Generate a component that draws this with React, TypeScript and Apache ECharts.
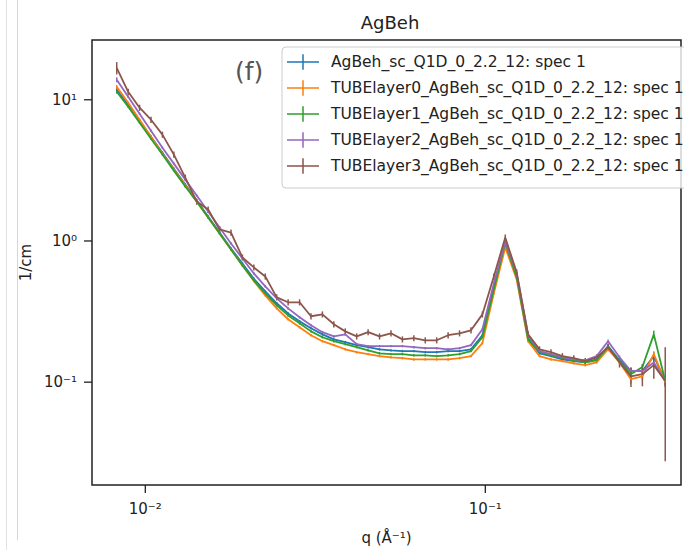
import React, { useEffect, useRef } from 'react';
import * as echarts from 'echarts';

// q grid (Å^-1)
const q = [
  0.008241, 0.008905, 0.00962, 0.010394, 0.01123, 0.012134, 0.01311, 0.014165, 0.015305, 0.016537,
  0.017867, 0.019305, 0.020858, 0.022536, 0.024349, 0.026308, 0.028425, 0.030712, 0.033183, 0.035853,
  0.038738, 0.041855, 0.045222, 0.048861, 0.052792, 0.05704, 0.061629, 0.066588, 0.071946, 0.077735,
  0.083989, 0.090747, 0.098049, 0.10594, 0.11446, 0.12367, 0.13362, 0.14437, 0.15599, 0.16854,
  0.1821, 0.19675, 0.21258, 0.22968, 0.24817, 0.26813, 0.28971, 0.31302, 0.3382,
];

const seriesNames = [
  'AgBeh_sc_Q1D_0_2.2_12: spec 1',
  'TUBElayer0_AgBeh_sc_Q1D_0_2.2_12: spec 1',
  'TUBElayer1_AgBeh_sc_Q1D_0_2.2_12: spec 1',
  'TUBElayer2_AgBeh_sc_Q1D_0_2.2_12: spec 1',
  'TUBElayer3_AgBeh_sc_Q1D_0_2.2_12: spec 1',
];

const agbeh = [
  11.77, 9.22, 7.11, 5.48, 4.22, 3.25, 2.51, 1.933, 1.49, 1.148,
  0.885, 0.693, 0.54, 0.44, 0.362, 0.307, 0.27, 0.241, 0.218, 0.201,
  0.192, 0.183, 0.177, 0.171, 0.168, 0.166, 0.166, 0.163, 0.163, 0.166,
  0.166, 0.171, 0.215, 0.469, 0.96, 0.57, 0.205, 0.16, 0.153, 0.145,
  0.141, 0.138, 0.145, 0.18, 0.143, 0.12, 0.12, 0.153, 0.102,
];
const tube0 = [
  12.36, 9.52, 7.22, 5.48, 4.15, 3.2, 2.47, 1.9, 1.466, 1.13,
  0.871, 0.671, 0.52, 0.412, 0.333, 0.279, 0.245, 0.215, 0.195, 0.183,
  0.171, 0.163, 0.158, 0.153, 0.15, 0.148, 0.145, 0.145, 0.145, 0.145,
  0.148, 0.153, 0.189, 0.426, 0.9, 0.535, 0.195, 0.153, 0.145, 0.141,
  0.136, 0.132, 0.138, 0.171, 0.138, 0.105, 0.11, 0.158, 0.1,
];
const tube1 = [
  11.39, 8.92, 6.88, 5.3, 4.09, 3.15, 2.43, 1.902, 1.466, 1.13,
  0.871, 0.671, 0.526, 0.426, 0.35, 0.297, 0.261, 0.229, 0.208, 0.195,
  0.186, 0.177, 0.168, 0.16, 0.158, 0.158, 0.155, 0.155, 0.153, 0.155,
  0.158, 0.166, 0.208, 0.454, 0.976, 0.552, 0.201, 0.163, 0.155, 0.148,
  0.143, 0.138, 0.143, 0.177, 0.141, 0.114, 0.128, 0.218, 0.102,
];
const tube2 = [
  13.85, 10.5, 7.96, 6.04, 4.58, 3.53, 2.72, 2.097, 1.616, 1.246,
  0.96, 0.752, 0.589, 0.477, 0.392, 0.333, 0.288, 0.253, 0.226, 0.211,
  0.218, 0.186, 0.18, 0.18, 0.18, 0.18, 0.177, 0.174, 0.174, 0.171,
  0.174, 0.183, 0.237, 0.501, 0.99, 0.589, 0.215, 0.166, 0.158, 0.15,
  0.145, 0.143, 0.153, 0.195, 0.15, 0.12, 0.12, 0.138, 0.102,
];
const tube3 = [
  16.8, 11.39, 8.78, 7.22, 5.66, 4.09, 2.81, 1.9, 1.67, 1.206,
  1.148, 0.764, 0.65, 0.561, 0.399, 0.368, 0.368, 0.293, 0.302, 0.257,
  0.229, 0.211, 0.226, 0.211, 0.222, 0.201, 0.205, 0.198, 0.198, 0.215,
  0.222, 0.233, 0.302, 0.561, 1.058, 0.599, 0.218, 0.171, 0.163, 0.153,
  0.148, 0.141, 0.15, 0.177, 0.138, 0.11, 0.114, 0.132, 0.102,
];

// relative error bars (fraction of value)
const errAgbeh = [
  0.03, 0.02, 0.02, 0.02, 0.02, 0.02, 0.02, 0.02, 0.02, 0.02,
  0.02, 0.02, 0.02, 0.02, 0.02, 0.02, 0.02, 0.02, 0.02, 0.02,
  0.02, 0.02, 0.02, 0.02, 0.02, 0.02, 0.02, 0.02, 0.02, 0.02,
  0.02, 0.02, 0.02, 0.02, 0.02, 0.02, 0.02, 0.02, 0.02, 0.02,
  0.02, 0.02, 0.02, 0.03, 0.03, 0.04, 0.04, 0.06, 0.08,
];
const errTube0 = [
  0.03, 0.02, 0.02, 0.02, 0.02, 0.02, 0.02, 0.02, 0.02, 0.02,
  0.02, 0.02, 0.02, 0.02, 0.02, 0.02, 0.02, 0.02, 0.02, 0.02,
  0.02, 0.02, 0.02, 0.02, 0.02, 0.02, 0.02, 0.02, 0.02, 0.02,
  0.02, 0.02, 0.02, 0.02, 0.02, 0.02, 0.02, 0.02, 0.02, 0.02,
  0.02, 0.02, 0.02, 0.03, 0.03, 0.07, 0.06, 0.05, 0.08,
];
const errTube1 = [
  0.03, 0.02, 0.02, 0.02, 0.02, 0.02, 0.02, 0.02, 0.02, 0.02,
  0.02, 0.02, 0.02, 0.02, 0.02, 0.02, 0.02, 0.02, 0.02, 0.02,
  0.02, 0.02, 0.02, 0.02, 0.02, 0.02, 0.02, 0.02, 0.02, 0.02,
  0.02, 0.02, 0.02, 0.02, 0.02, 0.02, 0.02, 0.02, 0.02, 0.02,
  0.02, 0.02, 0.02, 0.03, 0.03, 0.04, 0.04, 0.06, 0.08,
];
const errTube2 = [
  0.04, 0.02, 0.02, 0.02, 0.02, 0.02, 0.02, 0.02, 0.02, 0.02,
  0.02, 0.02, 0.02, 0.02, 0.02, 0.02, 0.02, 0.02, 0.02, 0.02,
  0.02, 0.02, 0.02, 0.02, 0.02, 0.02, 0.02, 0.02, 0.02, 0.02,
  0.02, 0.02, 0.02, 0.02, 0.02, 0.02, 0.02, 0.02, 0.02, 0.02,
  0.02, 0.02, 0.02, 0.03, 0.03, 0.05, 0.05, 0.06, 0.08,
];
const errTube3 = [
  0.1, 0.05, 0.05, 0.05, 0.05, 0.05, 0.05, 0.05, 0.05, 0.05,
  0.05, 0.05, 0.05, 0.05, 0.05, 0.05, 0.05, 0.05, 0.05, 0.05,
  0.05, 0.05, 0.05, 0.05, 0.05, 0.05, 0.05, 0.05, 0.05, 0.05,
  0.05, 0.05, 0.05, 0.05, 0.05, 0.05, 0.05, 0.05, 0.05, 0.05,
  0.05, 0.05, 0.05, 0.06, 0.08, 0.16, 0.18, 0.2, 0.73,
];

const colors = ['#1f77b4', '#ff7f0e', '#2ca02c', '#9467bd', '#8c564b'];

const xTicks = [0.01, 0.1];
const yTicks = [0.1, 1, 10];
const xMin = 0.00697;
const xMax = 0.3763;
const yMin = 0.0187;
const yMax = 26.5;

const FONT = 'DejaVu Sans';
const crossIcon = 'path://M0,7L32,7L32,8.5L0,8.5Z M15.25,0L16.75,0L16.75,15.5L15.25,15.5Z';

const supMap: Record<string, string> = {
  '-': '\u207B', '0': '\u2070', '1': '\u00B9', '2': '\u00B2', '3': '\u00B3',
};
function powLabel(v: number): string {
  const l = Math.log10(v);
  const e = Math.round(l);
  if (Math.abs(l - e) > 1e-6) return '';
  return '10' + String(e).split('').map((c) => supMap[c] || c).join('');
}

export default function App() {
  const ref = useRef<HTMLDivElement>(null);
  useEffect(() => {
    const chart = echarts.init(ref.current!, null, { renderer: 'svg' });
    const values = [agbeh, tube0, tube1, tube2, tube3];
    const errs = [errAgbeh, errTube0, errTube1, errTube2, errTube3];
    const series: any[] = [];
    values.forEach((vals, k) => {
      series.push({
        type: 'line',
        name: seriesNames[k],
        data: q.map((x, i) => [x, vals[i]]),
        symbol: 'none',
        lineStyle: { width: 1.8, color: colors[k] },
        itemStyle: { color: colors[k] },
        z: 2,
        silent: true,
      });
      series.push({
        type: 'custom',
        name: 'err' + k,
        data: q.map((x, i) => [x, vals[i] * (1 - errs[k][i]), vals[i] * (1 + errs[k][i])]),
        encode: { x: 0, y: [1, 2] },
        z: 2,
        silent: true,
        renderItem: (params: any, api: any) => {
          const x = api.value(0);
          const p1 = api.coord([x, api.value(1)]);
          const p2 = api.coord([x, api.value(2)]);
          return {
            type: 'line',
            shape: { x1: p1[0], y1: p1[1], x2: p2[0], y2: p2[1] },
            style: { stroke: colors[k], lineWidth: 1.5 },
          };
        },
      });
    });
    series.push({
      type: 'custom',
      name: 'axisTicks',
      data: [...xTicks.map((v) => [v, yMin, 0]), ...yTicks.map((v) => [xMin, v, 1])],
      encode: { x: 0, y: 1 },
      clip: false,
      silent: true,
      z: 10,
      renderItem: (params: any, api: any) => {
        const c = api.coord([api.value(0), api.value(1)]);
        const f = api.value(2);
        const shape = f === 0
          ? { x1: c[0], y1: c[1], x2: c[0], y2: c[1] + 8 }
          : { x1: c[0] - 8, y1: c[1], x2: c[0], y2: c[1] };
        return { type: 'line', shape, style: { stroke: '#222', lineWidth: 1.3 } };
      },
    });

    chart.setOption({
      animation: false,
      grid: {
        left: 92, top: 40, right: -4, bottom: 64,
        show: true, borderColor: '#222', borderWidth: 1.5, backgroundColor: 'transparent',
      },
      xAxis: {
        type: 'log', logBase: 10, min: xMin, max: xMax,
        name: 'q (Å\u207B\u00B9)', nameLocation: 'middle', nameGap: 45,
        nameTextStyle: { fontFamily: FONT, fontSize: 15, color: '#222' },
        axisLine: { show: false }, axisTick: { show: false }, splitLine: { show: false },
        axisLabel: { formatter: (v: number) => powLabel(v), margin: 16, fontFamily: FONT, fontSize: 15, color: '#222' },
      },
      yAxis: {
        type: 'log', logBase: 10, min: yMin, max: yMax,
        name: '1/cm', nameLocation: 'middle', nameGap: 56, nameRotate: 90,
        nameTextStyle: { fontFamily: FONT, fontSize: 15, color: '#222' },
        axisLine: { show: false }, axisTick: { show: false }, splitLine: { show: false },
        axisLabel: { formatter: (v: number) => powLabel(v), margin: 15, fontFamily: FONT, fontSize: 15, color: '#222' },
      },
      legend: {
        orient: 'vertical', left: 282, top: 47, padding: [7, 5, 14, 5], itemGap: 10,
        itemWidth: 32, itemHeight: 15.5, z: 20, selectedMode: false,
        textStyle: { fontFamily: FONT, fontSize: 15.5, color: '#222', padding: [0, 0, 0, 7] },
        backgroundColor: 'rgba(255,255,255,0.8)', borderColor: '#cccccc', borderWidth: 1, borderRadius: 4,
        itemStyle: { borderWidth: 0 },
        data: seriesNames.map((n) => ({ name: n, icon: crossIcon })),
      },
      graphic: [
        { type: 'line', shape: { x1: 6.5, y1: 0, x2: 6.5, y2: 550 }, style: { stroke: '#e2e2e2', lineWidth: 1 }, silent: true },
        { type: 'line', shape: { x1: 17.5, y1: 0, x2: 17.5, y2: 540 }, style: { stroke: '#d6d6d6', lineWidth: 1 }, silent: true },
        {
          type: 'text', x: 390, y: 22, silent: true,
          style: { text: 'AgBeh', font: `18px "${FONT}"`, fill: '#222', textAlign: 'center', textVerticalAlign: 'middle' },
        },
        {
          type: 'text', x: 235, y: 71, silent: true, z: 5,
          style: { text: '(f)', font: `25px "${FONT}"`, fill: '#555', textAlign: 'left', textVerticalAlign: 'middle' },
        },
      ],
      series,
    });
    return () => chart.dispose();
  }, []);
  return <div ref={ref} style={{ position: 'absolute', left: 0, top: 0, width: 684, height: 550 }} />;
}
